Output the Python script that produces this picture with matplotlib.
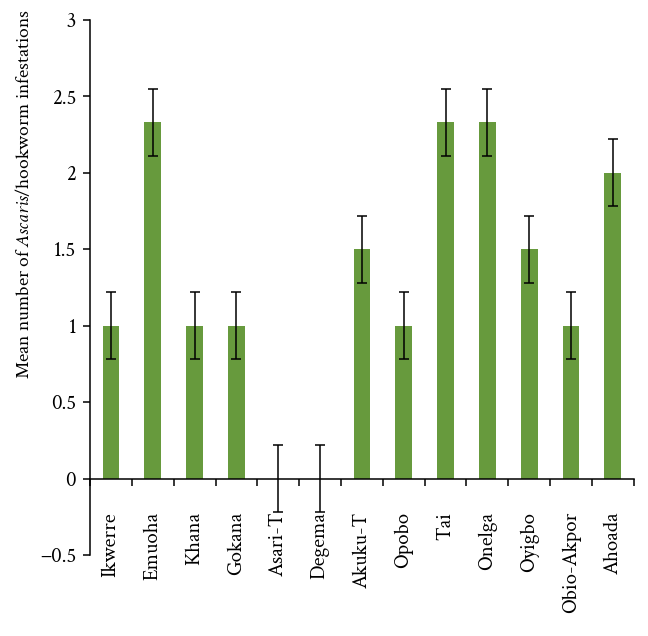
import matplotlib
matplotlib.use('Agg')
import matplotlib.pyplot as plt
from matplotlib.ticker import FixedLocator

regions = ["Ikwerre", "Emuoha", "Khana", "Gokana", "Asari-T", "Degema", "Akuku-T",
           "Opobo", "Tai", "Onelga", "Oyigbo", "Obio-Akpor", "Ahoada"]
means = [1.0, 2.33, 1.0, 1.0, 0.0, 0.0, 1.5, 1.0, 2.33, 2.33, 1.5, 1.0, 2.0]
errors = [0.22, 0.22, 0.22, 0.22, 0.22, 0.22, 0.22, 0.22, 0.22, 0.22, 0.22, 0.22, 0.22]
yticks = [-0.5, 0, 0.5, 1, 1.5, 2, 2.5, 3]
ytick_labels = ['\u22120.5', '0', '0.5', '1', '1.5', '2', '2.5', '3']

plt.rcParams['font.family'] = ['Crimson Text', 'Liberation Serif', 'DejaVu Serif']
plt.rcParams['mathtext.fontset'] = 'custom'
plt.rcParams['mathtext.rm'] = 'Crimson Text'
plt.rcParams['mathtext.it'] = 'Crimson Text:italic'

fig = plt.figure(figsize=(6.48, 6.36), dpi=100)
ax = fig.add_axes([0.139, 0.1274, 0.839, 0.8412])

x = list(range(len(regions)))
ax.bar(x, means, width=0.4, color='#679a3d', zorder=2)
ax.errorbar(x, means, yerr=errors, fmt='none', ecolor='black', elinewidth=1.1,
            capsize=3.5, capthick=1.1, zorder=3)

ax.set_xlim(-0.5, len(regions) - 0.5)
ax.set_ylim(-0.5, 3)
ax.set_yticks(yticks)
ax.set_yticklabels(ytick_labels, fontsize=15)

ax.spines['top'].set_visible(False)
ax.spines['right'].set_visible(False)
ax.spines['bottom'].set_position(('data', 0))
ax.spines['left'].set_linewidth(1.1)
ax.spines['bottom'].set_linewidth(1.1)

ax.set_xticks(x)
ax.set_xticklabels(regions, rotation=90, fontsize=15, va='top')
ax.xaxis.set_minor_locator(FixedLocator([i - 0.5 for i in range(len(regions) + 1)]))
ax.tick_params(axis='x', which='major', length=0, pad=24)
ax.tick_params(axis='x', which='minor', length=5, width=1.1, direction='out')
ax.tick_params(axis='y', length=5, width=1.1, direction='out', pad=5)

ax.set_ylabel("Mean number of $\\it{Ascaris}$/hookworm infestations", fontsize=14)
ax.yaxis.set_label_coords(-0.105, 0.675)

fig.savefig("out.png", dpi=100)
